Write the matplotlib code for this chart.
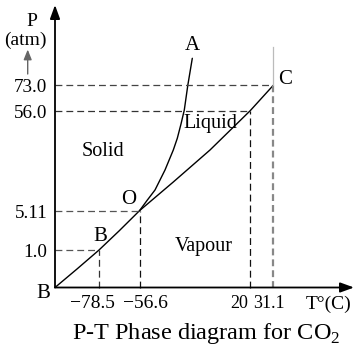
import numpy as np
import matplotlib.pyplot as plt

plt.rcParams['font.family'] = ['Liberation Serif', 'DejaVu Serif']

# tick values of the schematic P-T diagram
t_labels = ['\u221278.5', '\u221256.6', '20', '31.1']
p_labels = ['1.0', '5.11', '56.0', '73.0']

# schematic positions of those ticks (diagram is not to scale)
t_pos = [43.7, 84.5, 195.2, 218.3]
p_pos = [37.2, 76.8, 176.8, 202.2]

# vapour pressure / sublimation curve B -> O -> C
vap_x = [0, 22, 43.7, 64, 84.5, 118.3, 155, 195.2, 218.3]
vap_y = [0, 18.5, 37.2, 56.5, 76.8, 105.5, 137.5, 176.8, 202.2]

# fusion curve O -> A
fus_x = [84.5, 92, 100, 110, 118.3, 122.3, 126, 129.3, 132.8, 137.3]
fus_y = [76.8, 87, 97.5, 117.5, 137.5, 149.2, 163.5, 177.5, 202.2, 229.2]

fig = plt.figure(figsize=(3.61, 3.53), dpi=100)
ax = fig.add_axes([0, 0, 1, 1])
ax.set_xlim(-55, 306)
ax.set_ylim(-65.5, 287.5)
ax.axis('off')

fs = 14.5

# axes with arrows
arr = dict(arrowstyle='-|>,head_length=0.55,head_width=0.2', lw=1.3,
           color='k', mutation_scale=15, shrinkA=0, shrinkB=0)
ax.annotate('', xy=(299, 0), xytext=(0, 0), arrowprops=arr)
ax.annotate('', xy=(0, 282.5), xytext=(0, 0), arrowprops=arr)

# curves
ax.plot(vap_x, vap_y, color='k', lw=1.0, solid_capstyle='round')
ax.plot(fus_x, fus_y, color='k', lw=1.0, solid_capstyle='round')

# dashed guide lines
hcol = ['#555555', '#555555', '#333333', '#444444']
vcol = ['#333333', '#111111', '#111111', '#888888']
vlw = [0.9, 0.9, 0.9, 1.6]
for i in range(4):
    ax.plot([0, t_pos[i]], [p_pos[i], p_pos[i]], color=hcol[i], lw=0.9,
            dashes=(5.5, 3.2))
    ax.plot([t_pos[i], t_pos[i]], [0, p_pos[i]], color=vcol[i], lw=vlw[i],
            dashes=(5.5 * 0.9 / vlw[i], 3.2 * 0.9 / vlw[i]))
ax.plot([t_pos[3], t_pos[3]], [p_pos[3], 240.5], color='#bbbbbb', lw=0.9)

# tick labels
for y, s in zip(p_pos, p_labels):
    ax.text(-7.5, y - 2.5, s, ha='right', va='center', fontsize=13.8)
t_text_x = [37, 90.5, 184.5, 213.5]
t_text_fs = [14, 14, 13, 13]
for x, s, f in zip(t_text_x, t_labels, t_text_fs):
    ax.text(x, -16.5, s, ha='center', va='center', fontsize=f)
ax.text(274, -16.5, 'T°(C)', ha='center', va='center', fontsize=14)

# axis title on P
ax.text(-23, 265.5, 'P', ha='center', va='center', fontsize=14)
ax.text(-29.3, 247.5, '(atm)', ha='center', va='center', fontsize=14)
ax.annotate('', xy=(-27.3, 238), xytext=(-27.3, 213.5),
            arrowprops=dict(arrowstyle='-|>,head_length=0.5,head_width=0.2',
                            lw=1.0, color='#666666', mutation_scale=12,
                            shrinkA=0, shrinkB=0))

# point and region labels
ax.text(-12, -5.8, 'B', ha='center', va='center', fontsize=fs + 0.5)
ax.text(45.7, 50.8, 'B', ha='center', va='center', fontsize=fs + 0.5)
ax.text(74, 87.5, 'O', ha='center', va='center', fontsize=fs + 0.5)
ax.text(137.7, 242.5, 'A', ha='center', va='center', fontsize=fs + 0.5)
ax.text(230, 207.5, 'C', ha='center', va='center', fontsize=fs + 0.5)
ax.text(48.3, 135.8, 'Solid', ha='center', va='center', fontsize=fs)
ax.text(155, 164.2, 'Liquid', ha='center', va='center', fontsize=fs)
ax.text(149, 41.5, 'Vapour', ha='center', va='center', fontsize=fs)

ax.text(151.3, -46.5, 'P-T Phase diagram for CO$_\\mathregular{2}$',
        ha='center', va='center', fontsize=17.5)

fig.savefig('out.png', dpi=100)
